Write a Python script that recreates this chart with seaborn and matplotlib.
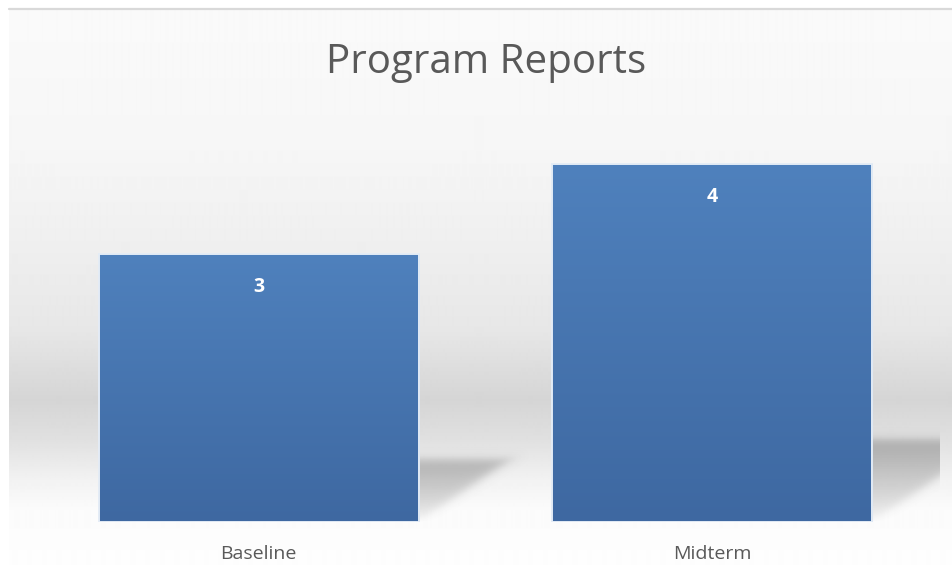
import numpy as np
import pandas as pd
import matplotlib
matplotlib.use("Agg")
import matplotlib.pyplot as plt
import seaborn as sns
from matplotlib.lines import Line2D
from matplotlib.colors import LinearSegmentedColormap

# ---- data ----
categories = ["Baseline", "Midterm"]
values = [3, 4]
title_text = "Program Reports"

sns.set_theme(style="white")
plt.rcParams["font.family"] = ["Open Sans", "DejaVu Sans"]

W, H = 952, 565
fig = plt.figure(figsize=(W / 100, H / 100), dpi=100)
fig.patch.set_facecolor("white")

# ---- background panel with vertical gradient ----
bg = fig.add_axes([9 / W, 0, (W - 9) / W, (H - 10) / H], zorder=0)
rows = np.arange(10, H)
stops_y = [10, 150, 250, 330, 400, 440, 480, 510, 565]
stops_v = [0.98, 0.965, 0.935, 0.905, 0.835, 0.88, 0.95, 0.985, 0.995]
shade = np.interp(rows, stops_y, stops_v)
bg.imshow(np.repeat(shade[:, None], 2, axis=1), cmap="gray", vmin=0, vmax=1,
          aspect="auto", extent=[0, 1, 0, 1], interpolation="bilinear")
bg.set_axis_off()
fig.add_artist(Line2D([9 / W, 1], [1 - 9 / H, 1 - 9 / H], color="#D9D9D9", lw=1.6,
                      transform=fig.transFigure))

# ---- main axes ----
ax = fig.add_axes([32 / W, 43 / H, 907 / W, 402.75 / H], zorder=1)
ax.patch.set_alpha(0)
df = pd.DataFrame({"category": categories, "value": values})
sns.barplot(data=df, x="category", y="value", ax=ax, width=0.706,
            color="#4F81BD", saturation=1)
ax.set_xlim(-0.5, 1.5)
ax.set_ylim(0, 4.5)

bar_cmap = LinearSegmentedColormap.from_list("bar", ["#3E68A1", "#4F81BD"])
grad = np.linspace(0, 1, 256)[::-1][:, None]  # top = 1

# pixel scale of the data axes (for soft shadow edges)
bb = ax.get_position()
px_x = bb.width * W / 2.0      # pixels per category unit
px_y = bb.height * H / 4.5     # pixels per value unit

shift_per_unit = 0.0662   # horizontal skew of the shadow per value unit
squash = 0.23             # vertical compression of the shadow
blur = 7.0                # px

def smooth(d):
    return 1.0 / (1.0 + np.exp(-d / (blur / 2.5)))

for p, v in zip(ax.patches, values):
    x0, w, h = p.get_x(), p.get_width(), p.get_height()
    x1 = x0 + w
    s = shift_per_unit * h
    yt = squash * h
    # soft skewed shadow rendered as an image behind the bar
    xa, xb = x1 - 0.05, x1 + s + 0.08
    ya, yb = 0.0, yt + 0.25
    gx = np.linspace(xa, xb, 300)
    gy = np.linspace(yb, ya, 160)
    X, Y = np.meshgrid(gx, gy)
    Xp, Yp = X * px_x, Y * px_y
    d_top = (yt - Y) * px_y
    ax_, ay_ = x1 * px_x, 0.0
    bx_, by_ = (x1 + s) * px_x, yt * px_y
    nx_, ny_ = -(by_ - ay_), (bx_ - ax_)
    nn = np.hypot(nx_, ny_)
    d_sl = ((Xp - ax_) * nx_ + (Yp - ay_) * ny_) / nn
    frac = np.clip(Y / yt, 0, 1)
    alpha = 0.36 * frac ** 0.6 * smooth(d_top) * smooth(d_sl)
    rgba = np.zeros(X.shape + (4,))
    rgba[..., :3] = 0.3
    rgba[..., 3] = alpha
    ax.imshow(rgba, extent=[xa, xb, ya, yb], aspect="auto", zorder=1.5,
              interpolation="bilinear")
    # gradient bar fill
    im = ax.imshow(grad, cmap=bar_cmap, vmin=0, vmax=1, aspect="auto",
                   extent=[x0, x1, 0, h], zorder=2, interpolation="bilinear")
    im.set_clip_path(p)
    p.set_facecolor("none")
    p.set_edgecolor("#E4ECF6")
    p.set_linewidth(1.4)
    p.set_zorder(3)
    # value label
    ax.annotate(f"{v:g}", xy=(x0 + w / 2, h), xytext=(0, -38 * 0.72),
                textcoords="offset points", ha="center", va="baseline",
                color="white", fontsize=14, fontweight="bold", zorder=4)

ax.set_xlim(-0.5, 1.5)
ax.set_ylim(0, 4.5)
ax.set_xlabel("")
ax.set_ylabel("")
ax.set_yticks([])
ax.tick_params(axis="x", length=0, pad=16.5, labelsize=14, labelcolor="#595959")
for sp in ax.spines.values():
    sp.set_visible(False)

fig.text(486 / W, 1 - 73 / H, title_text, ha="center", va="baseline",
         fontsize=29, color="#595959")

fig.savefig("out.png", dpi=100)
